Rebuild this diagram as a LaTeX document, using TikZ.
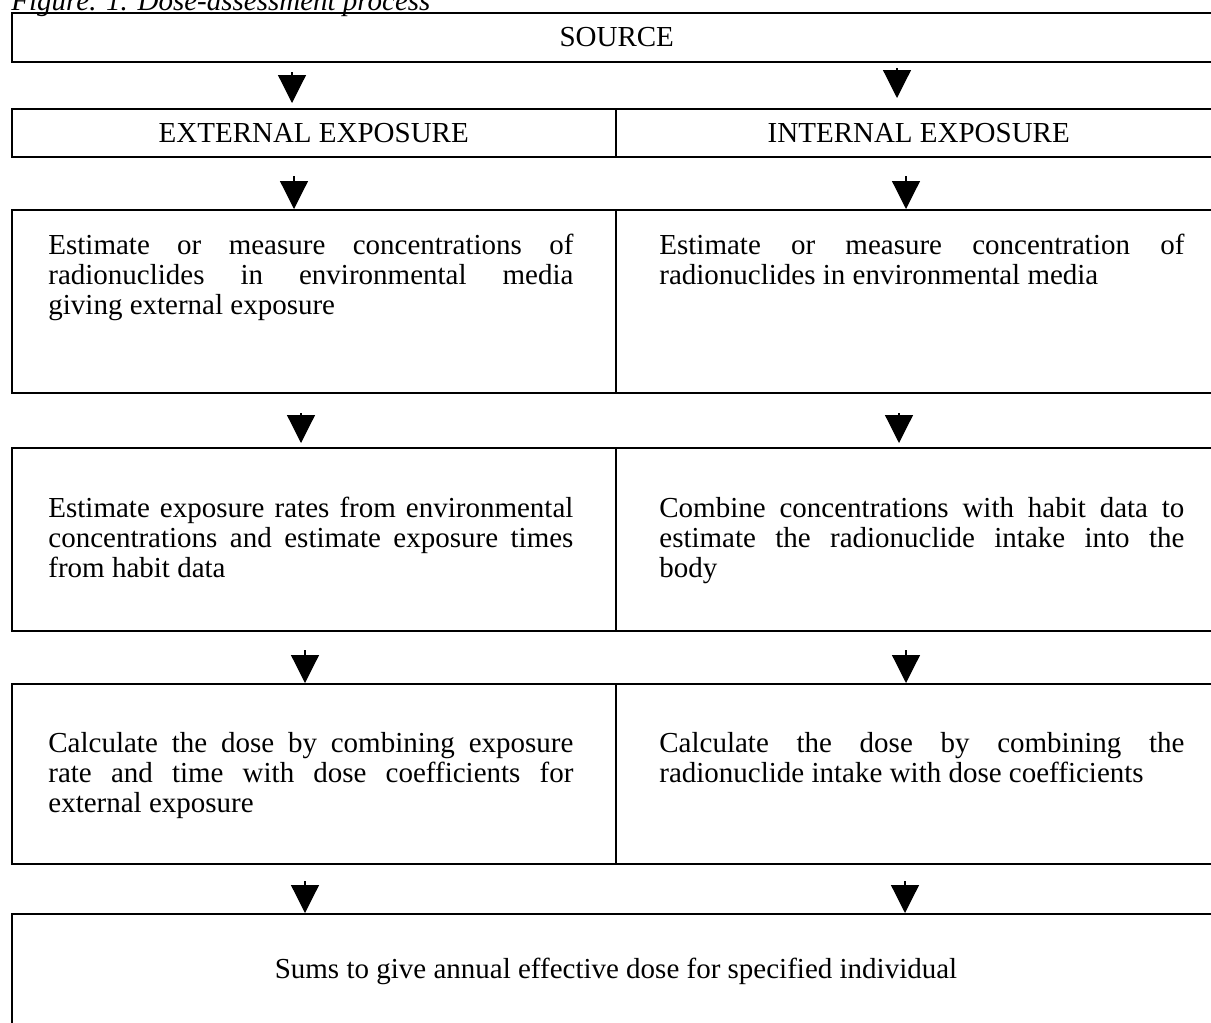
\documentclass[tikz,border=0pt]{standalone}
\usepackage{fontspec}
\setmainfont{Liberation Serif}
\usetikzlibrary{arrows.meta}
\tikzset{
  cell/.style={draw=black, line width=0.75pt, anchor=north west, inner sep=0pt, minimum width=#1},
  cell/.default=302pt,
  body/.style={anchor=north west, inner sep=0pt, text width=262.5pt, align=justify,
    font=\fontsize{14.5}{15}\selectfont},
  lbl/.style={font=\fontsize{14.5}{15}\selectfont},
  arr/.style={line width=0.6pt, -{Triangle[width=14pt,length=14pt]}},
}
\begin{document}
\begin{tikzpicture}[x=0.5pt,y=-0.5pt]
\useasboundingbox (0,0) rectangle (1211,1023);
\fill[white] (0,0) rectangle (1211,1023);
\clip (0,0) rectangle (1211,1023);
% caption
\node[font=\fontsize{14.5}{15}\selectfont\itshape, anchor=base west, inner sep=0pt] (cap) at (11,10) {Figure. 1. Dose-assessment process};
% boxes
\node[cell=605pt, minimum height=24.5pt, lbl] (source) at (11,12) {SOURCE};
\node[cell=302pt, minimum height=24pt, lbl] (ext) at (11,108) {EXTERNAL EXPOSURE};
\node[cell=303pt, minimum height=24pt, lbl] (int) at (615,108) {INTERNAL EXPOSURE};
\node[cell=302pt, minimum height=91.5pt] (r1l) at (11,209) {};
\node[cell=303pt, minimum height=91.5pt] (r1r) at (615,209) {};
\node[cell=302pt, minimum height=91.5pt] (r2l) at (11,447) {};
\node[cell=303pt, minimum height=91.5pt] (r2r) at (615,447) {};
\node[cell=302pt, minimum height=90pt] (r3l) at (11,683) {};
\node[cell=303pt, minimum height=90pt] (r3r) at (615,683) {};
\node[cell=605pt, minimum height=70pt] (fin) at (11,913) {};
% texts
\node[body] (t1l) at (48,234) {Estimate or measure concentrations of\linebreak radionuclides in environmental media\linebreak giving external exposure};
\node[body] (t1r) at (659,234) {Estimate or measure concentration of\linebreak radionuclides in environmental media};
\node[body] (t2l) at (48,497) {Estimate exposure rates from environmental\linebreak concentrations and estimate exposure times\linebreak from habit data};
\node[body] (t2r) at (659,497) {Combine concentrations with habit data to\linebreak estimate the radionuclide intake into the\linebreak body};
\node[body] (t3l) at (48,732) {Calculate the dose by combining exposure\linebreak rate and time with dose coefficients for\linebreak external exposure};
\node[body] (t3r) at (659,732) {Calculate the dose by combining the\linebreak radionuclide intake with dose coefficients};
\node[lbl, anchor=base, inner sep=0pt] (tfin) at (616,978) {Sums to give annual effective dose for specified individual};
% arrows
\coordinate (a1) at (292,72);
\coordinate (a2) at (897,68);
\draw[arr, shorten >=2.5pt] (a1) -- (a1 |- ext.north);
\draw[arr, shorten >=5pt] (a2) -- (a2 |- int.north);
\coordinate (b1) at (294,176);
\coordinate (b2) at (906,176);
\draw[arr] (b1) -- (b1 |- r1l.north);
\draw[arr] (b2) -- (b2 |- r1r.north);
\coordinate (c1) at (301,413);
\coordinate (c2) at (899,413);
\draw[arr, shorten >=2pt] (c1) -- (c1 |- r2l.north);
\draw[arr, shorten >=2pt] (c2) -- (c2 |- r2r.north);
\coordinate (d1) at (305,650);
\coordinate (d2) at (906,650);
\draw[arr] (d1) -- (d1 |- r3l.north);
\draw[arr] (d2) -- (d2 |- r3r.north);
\coordinate (e1) at (305,881);
\coordinate (e2) at (905,881);
\draw[arr] (e1) -- (e1 |- fin.north);
\draw[arr] (e2) -- (e2 |- fin.north);
\end{tikzpicture}
\end{document}
